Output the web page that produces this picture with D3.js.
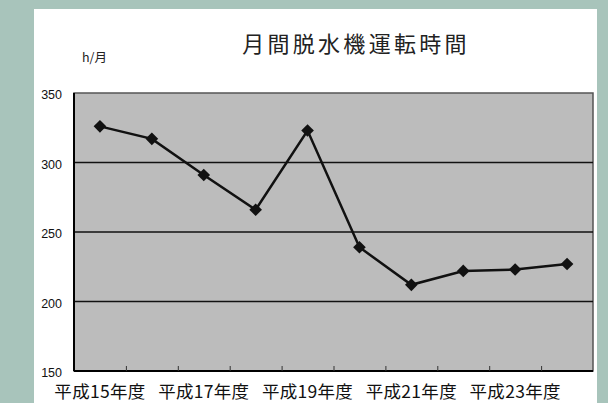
<!DOCTYPE html>
<html>
<head>
<meta charset="utf-8">
<script src="https://cdn.jsdelivr.net/npm/d3@7"></script>
<style>
  body { margin: 0; background: #a8c4bb; }
  svg { display: block; }
  text { font-family: "Noto Sans CJK JP", "Liberation Sans", sans-serif; }
</style>
</head>
<body>
<svg id="chart" width="608" height="403"></svg>
<script>
// data
var years = ["平成15年度", "平成16年度", "平成17年度", "平成18年度", "平成19年度",
             "平成20年度", "平成21年度", "平成22年度", "平成23年度", "平成24年度"];
var hours = [326, 317, 291, 266, 323, 239, 212, 222, 223, 227];
var yTicks = [150, 200, 250, 300, 350];
var gridValues = [200, 250, 300];
var shownLabels = ["平成15年度", "平成17年度", "平成19年度", "平成21年度", "平成23年度"];

var svg = d3.select("#chart");
var width = 608, height = 403;

// backdrop and white card
svg.append("rect").attr("width", width).attr("height", height).attr("fill", "#a8c4bb");
svg.append("rect").attr("x", 34).attr("y", 9).attr("width", 563).attr("height", 400).attr("fill", "#ffffff");

var plotLeft = 74, plotTop = 93, plotRight = 593, plotBottom = 371;

var xScale = d3.scaleBand().domain(years).range([plotLeft, plotRight]).padding(0);
var xEdges = d3.scaleLinear().domain([0, years.length]).range([plotLeft, plotRight]);
var yScale = d3.scaleLinear().domain([150, 350]).range([plotBottom, plotTop]);

// plot area
svg.append("rect")
   .attr("x", plotLeft).attr("y", plotTop)
   .attr("width", plotRight - plotLeft).attr("height", plotBottom - plotTop)
   .attr("fill", "#bcbcbc")
   .attr("stroke", "#555").attr("stroke-width", 1.5);

// gridlines
svg.append("g").selectAll("line")
   .data(gridValues).enter().append("line")
   .attr("x1", plotLeft).attr("x2", plotRight)
   .attr("y1", function(d){ return yScale(d); })
   .attr("y2", function(d){ return yScale(d); })
   .attr("stroke", "#111").attr("stroke-width", 1.5);

// left and bottom axis lines
svg.append("line").attr("x1", plotLeft).attr("x2", plotLeft).attr("y1", plotTop).attr("y2", plotBottom)
   .attr("stroke", "#000").attr("stroke-width", 2);
svg.append("line").attr("x1", plotLeft).attr("x2", plotRight).attr("y1", plotBottom).attr("y2", plotBottom)
   .attr("stroke", "#000").attr("stroke-width", 2);

// small inward ticks at category boundaries
var tickAxis = svg.append("g")
   .attr("transform", "translate(0," + plotBottom + ")")
   .call(d3.axisBottom(xEdges).tickValues(d3.range(1, years.length)).tickSizeInner(-5).tickSizeOuter(0).tickFormat(""));
tickAxis.select(".domain").remove();
tickAxis.selectAll("line").attr("stroke", "#333");

// x labels
var xAxis = svg.append("g")
   .attr("transform", "translate(0," + plotBottom + ")")
   .call(d3.axisBottom(xScale).tickValues(shownLabels).tickSize(0));
xAxis.select(".domain").remove();
xAxis.selectAll("text")
   .attr("y", 15)
   .attr("fill", "#111")
   .style("font-size", "17.5px")
   .style("letter-spacing", "0.3px")
   .style("font-family", "'Noto Sans CJK JP', sans-serif");

// y labels
var yAxis = svg.append("g")
   .attr("transform", "translate(" + (plotLeft - 12) + ",0)")
   .call(d3.axisLeft(yScale).tickValues(yTicks).tickSize(0).tickPadding(0));
yAxis.select(".domain").remove();
yAxis.selectAll("text")
   .attr("dy", "0.45em")
   .attr("fill", "#111")
   .style("font-size", "12.5px")
   .style("font-family", "'Liberation Sans', Arial, sans-serif");

// line
var line = d3.line()
   .x(function(d, i){ return xScale(years[i]) + xScale.bandwidth() / 2; })
   .y(function(d){ return yScale(d); });

svg.append("path")
   .datum(hours)
   .attr("d", line)
   .attr("fill", "none")
   .attr("stroke", "#111")
   .attr("stroke-width", 2.5);

// diamond markers
svg.append("g").selectAll("path")
   .data(hours).enter().append("path")
   .attr("d", d3.symbol().type(d3.symbolSquare).size(80))
   .attr("transform", function(d, i){
      return "translate(" + (xScale(years[i]) + xScale.bandwidth() / 2) + "," + yScale(d) + ") rotate(45)";
   })
   .attr("fill", "#111");

// title and unit
svg.append("text")
   .attr("x", 356).attr("y", 52)
   .attr("text-anchor", "middle")
   .style("font-size", "22px")
   .style("letter-spacing", "3.3px")
   .attr("fill", "#222")
   .text("月間脱水機運転時間");

svg.append("text")
   .attr("x", 82).attr("y", 62)
   .style("font-size", "12.5px")
   .attr("fill", "#222")
   .text("h/月");
</script>
</body>
</html>
